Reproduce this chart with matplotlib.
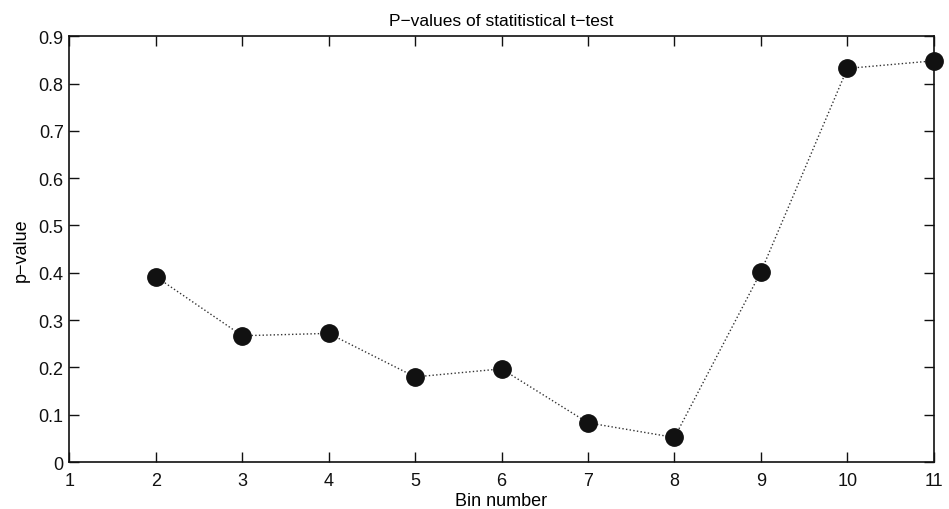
import matplotlib.pyplot as plt

plt.rcParams['font.family'] = ['Liberation Sans', 'DejaVu Sans']

# bin numbers and the p-value of the t-test in each bin
bins = [2, 3, 4, 5, 6, 7, 8, 9, 10, 11]
p_values = [0.392, 0.267, 0.272, 0.180, 0.197, 0.083, 0.052, 0.402, 0.832, 0.848]

x_ticks = [1, 2, 3, 4, 5, 6, 7, 8, 9, 10, 11]
y_ticks = [0, 0.1, 0.2, 0.3, 0.4, 0.5, 0.6, 0.7, 0.8, 0.9]

fig = plt.figure(figsize=(9.49, 5.10), dpi=100)
ax = fig.add_axes([0.073, 0.092, 0.911, 0.835])

ax.plot(bins, p_values, linestyle=':', linewidth=1.0, color='#333333',
        marker='o', markersize=12.5, markerfacecolor='#111111',
        markeredgecolor='#111111', clip_on=False, zorder=3)

ax.set_xlim(1, 11)
ax.set_ylim(0, 0.9)
ax.set_xticks(x_ticks)
ax.set_yticks(y_ticks)
ax.set_yticklabels(['0', '0.1', '0.2', '0.3', '0.4', '0.5', '0.6', '0.7', '0.8', '0.9'])
ax.tick_params(direction='in', top=True, right=True, length=7, width=1.0,
               labelsize=13, colors='#111111')
ax.tick_params(axis='x', pad=7)
ax.tick_params(axis='y', pad=4)
for side in ax.spines.values():
    side.set_linewidth(1.2)
    side.set_color('#111111')

ax.set_title('P\u2212values of statitistical t\u2212test', fontsize=12.5, pad=8)
ax.set_xlabel('Bin number', fontsize=13, labelpad=2)
ax.set_ylabel('p\u2212value', fontsize=13, labelpad=6)

plt.savefig('out.png', dpi=100)
